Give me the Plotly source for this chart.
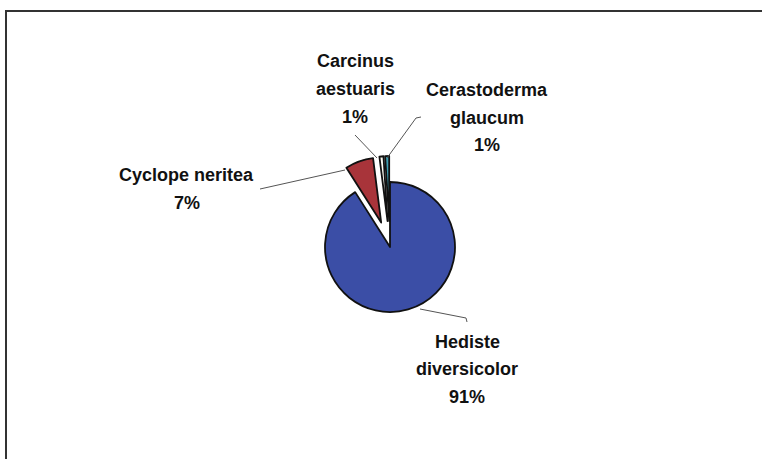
import plotly.graph_objects as go

# ---- data ----
species = ["Hediste diversicolor", "Cyclope neritea", "Carcinus aestuaris", "Cerastoderma glaucum"]
label_lines = [["Hediste", "diversicolor"], ["Cyclope neritea"], ["Carcinus", "aestuaris"], ["Cerastoderma", "glaucum"]]
shares = [91, 7, 1, 1]

# ---- style / layout ----
colors = ["#3b4ea6", "#a8343a", "#fbfbf3", "#3f9fb2"]
pulls = [0, 0.4, 0.4, 0.4]
W, H = 762, 459
cx, cy, r = 390, 247, 65
half = r * (1 + max(pulls))

label_first_line = [(467, 341.5), (186.5, 175), (355, 61.5), (487, 90)]
line_step = 27.5
leaders = [
    [(420, 309), (466, 318), (467, 322)],
    [(260, 189), (345, 170)],
    [(355, 135), (377, 158)],
    [(421, 117), (416, 118), (387, 158)],
]
font = dict(family="Liberation Sans, Arial, sans-serif", size=18, color="#111111")


def px(x):
    return x / W


def py(y):
    return 1 - y / H


fig = go.Figure(go.Pie(
    labels=species, values=shares, sort=False, direction="clockwise", rotation=0,
    pull=pulls, textinfo="none", hoverinfo="label+percent", showlegend=False,
    marker=dict(colors=colors, line=dict(color="#111111", width=1.8)),
    domain=dict(x=[px(cx - half), px(cx + half)], y=[py(cy + half), py(cy - half)]),
))

total = sum(shares)
annotations = []
for lines, v, (lx, ly) in zip(label_lines, shares, label_first_line):
    all_lines = lines + [f"{round(100 * v / total)}%"]
    for i, t in enumerate(all_lines):
        annotations.append(dict(
            x=px(lx), y=py(ly + i * line_step), xref="paper", yref="paper",
            text=f"<b>{t}</b>", showarrow=False, xanchor="center", yanchor="middle",
            font=font,
        ))

shapes = []
for pts in leaders:
    path = "M " + " L ".join(f"{px(x)},{py(y)}" for x, y in pts)
    shapes.append(dict(type="path", path=path, xref="paper", yref="paper",
                       line=dict(color="#555555", width=1)))

# chart frame (top and left edges visible)
shapes.append(dict(type="line", xref="paper", yref="paper", x0=px(5), x1=px(W), y0=py(11), y1=py(11),
                   line=dict(color="#333333", width=2)))
shapes.append(dict(type="line", xref="paper", yref="paper", x0=px(6), x1=px(6), y0=py(11), y1=py(H),
                   line=dict(color="#333333", width=2)))

fig.update_layout(
    width=W, height=H, margin=dict(l=0, r=0, t=0, b=0),
    paper_bgcolor="white", plot_bgcolor="white",
    annotations=annotations, shapes=shapes,
)

fig.write_html(
    "out.html",
    config={"displayModeBar": False},
    post_script="document.body.style.margin='0px';document.body.style.overflow='hidden';",
)
